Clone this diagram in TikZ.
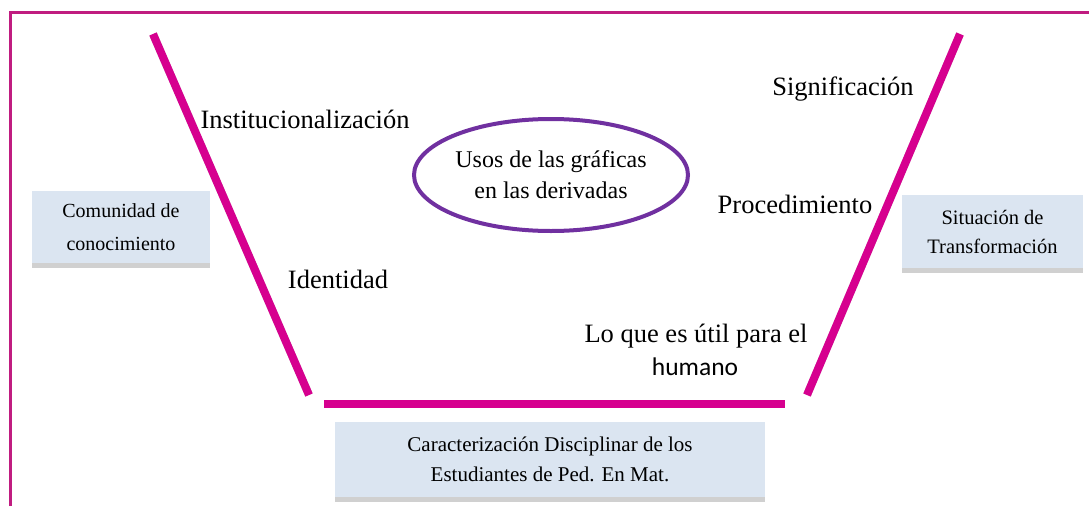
\documentclass[tikz,border=0pt]{standalone}
\usepackage{fontspec}
\setmainfont{Liberation Serif}
\newfontfamily\calib{Carlito}
\usetikzlibrary{shapes.geometric}
\definecolor{framecol}{RGB}{192,28,128}
\definecolor{barcol}{RGB}{214,0,143}
\definecolor{shadecol}{RGB}{208,208,208}
\definecolor{boxfill}{RGB}{219,229,241}
\definecolor{ellcol}{RGB}{112,48,160}
\tikzset{
  bar/.style={line width=8pt, draw=barcol},
  barshadow/.style={line width=8pt, draw=shadecol},
  lbl/.style={anchor=base, inner sep=0pt, font=\fontsize{26.5}{30}\selectfont},
  infobox/.style={fill=boxfill, inner sep=0pt, align=center, font=\fontsize{21}{30}\selectfont},
  uses/.style={ellipse, draw=ellcol, line width=4pt, minimum width=274pt, minimum height=112pt, inner sep=0pt, align=center, font=\fontsize{24}{31}\selectfont}
}
\begin{document}
\begin{tikzpicture}[x=1pt,y=-1pt]
\useasboundingbox (0,0) rectangle (1089,506);
\fill[white] (0,0) rectangle (1089,506);
% frame
\draw[framecol, line width=3.3pt] (10.3,506) -- (10.3,12.6) -- (1089,12.6);
% bar coordinates
\coordinate (L1) at (153,34);
\coordinate (L2) at (309,395);
\coordinate (B1) at (324,404);
\coordinate (B2) at (785,404);
\coordinate (R1) at (960,34);
\coordinate (R2) at (807,395);
% shadows
\begin{scope}[shift={(1.5,4.5)}]
\draw[barshadow] (L1) -- (L2);
\draw[barshadow] (B1) -- (B2);
\draw[barshadow] (R1) -- (R2);
\end{scope}
\draw[bar] (L1) -- (L2);
\draw[bar] (B1) -- (B2);
\draw[bar] (R1) -- (R2);
% boxes
\node[infobox, minimum width=178pt, minimum height=72pt, font=\fontsize{20}{33}\selectfont] (com) at (121,227) {Comunidad de\\conocimiento};
\fill[shadecol] (com.south west) rectangle ([yshift=-5pt]com.south east);
\node[infobox, minimum width=181pt, minimum height=73pt, font=\fontsize{20.5}{29}\selectfont] (sit) at (992.5,231.5) {Situación de\\Transformación};
\fill[shadecol] (sit.south west) rectangle ([yshift=-5pt]sit.south east);
\node[infobox, minimum width=430pt, minimum height=75pt] (car) at (550,459.5) {Caracterización Disciplinar de los\\Estudiantes de Ped. En Mat.};
\fill[shadecol] (car.south west) rectangle ([yshift=-4.5pt]car.south east);
% ellipse
\node[uses] (usos) at (551,175) {Usos de las gráficas\\en las derivadas};
% labels
\node[lbl] (inst) at (305,128) {Institucionalización};
\node[lbl] (sig) at (843,95) {Significación};
\node[lbl] (proc) at (795,213) {Procedimiento};
\node[lbl] (ident) at (338,288) {Identidad};
\node[lbl] (util) at (696,342) {Lo que es útil para el};
\node[lbl, font=\calib\fontsize{25.5}{30}\selectfont] (hum) at (695,375) {humano};
\end{tikzpicture}
\end{document}
